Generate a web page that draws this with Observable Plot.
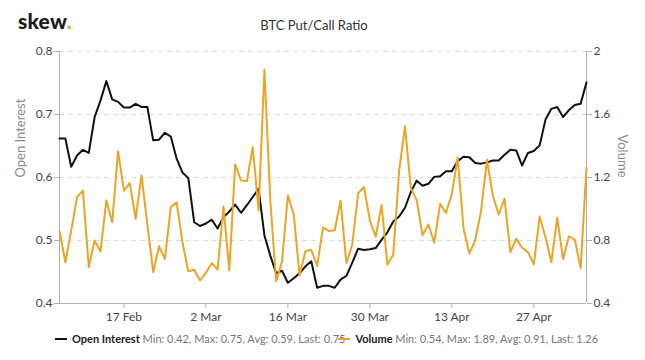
<!DOCTYPE html>
<html>
<head>
<meta charset="utf-8">
<script src="https://cdn.jsdelivr.net/npm/d3@7"></script>
<script src="https://cdn.jsdelivr.net/npm/@observablehq/plot@0.6"></script>
<style>
  body { margin: 0; background: #fff; font-family: Lato, "Noto Sans", sans-serif; }
  #wrap { position: relative; width: 645px; height: 360px; overflow: hidden; }
  #header { position: relative; height: 40px; }
  #logo { position: absolute; left: 18px; top: 8px; font-size: 21px; font-weight: 900; color: #1b1b1b; letter-spacing: 0.2px; }
  #logo span { color: #f0a21c; }
  #title { position: absolute; left: 0; width: 628px; top: 17px; text-align: center; font-size: 13px; color: #333; }
  #legend { position: relative; height: 20px; font-size: 11px; display: flex; padding-left: 55px; padding-top: 1px; white-space: nowrap; }
  .item { white-space: nowrap; }
  .item2 { margin-left: -7px; }
  .dash { display: inline-block; width: 12px; height: 2.5px; vertical-align: middle; margin-right: 5px; position: relative; top: -1px; }
  .name { color: #222; font-weight: 700; }
  .stats { color: #777; }
</style>
</head>
<body>
<div id="wrap">
  <div id="header">
    <div id="logo">skew<span>.</span></div>
    <div id="title">BTC Put/Call Ratio</div>
  </div>
  <div id="chart"></div>
  <div id="legend">
    <div class="item"><span class="dash" style="background:#111"></span><span class="name">Open Interest</span> <span class="stats">Min: 0.42, Max: 0.75, Avg: 0.59, Last: 0.75</span></div>
    <div class="item item2"><span class="dash" style="background:#eca424"></span><span class="name">Volume</span> <span class="stats">Min: 0.54, Max: 1.89, Avg: 0.91, Last: 1.26</span></div>
  </div>
</div>
<script>
// ---- data ----
const startDate = "2020-02-06"; // daily series, one value per day
const openInterest = [
  0.662,0.662,0.617,0.635,0.644,0.639,0.696,0.722,0.753,0.724,
  0.720,0.711,0.711,0.717,0.712,0.712,0.659,0.660,0.671,0.665,
  0.630,0.608,0.599,0.529,0.523,0.527,0.533,0.519,0.537,0.546,
  0.557,0.544,0.556,0.569,0.582,0.508,0.476,0.448,0.452,0.433,
  0.440,0.448,0.459,0.467,0.425,0.428,0.428,0.425,0.438,0.444,
  0.465,0.487,0.485,0.486,0.488,0.501,0.513,0.530,0.538,0.552,
  0.577,0.595,0.587,0.590,0.601,0.602,0.610,0.610,0.626,0.633,
  0.632,0.623,0.622,0.624,0.627,0.627,0.636,0.644,0.643,0.619,
  0.639,0.642,0.651,0.692,0.709,0.712,0.696,0.707,0.715,0.717,
  0.751
];
const volume = [
  0.859,0.662,0.863,1.075,1.117,0.630,0.800,0.730,1.054,0.916,
  1.367,1.117,1.164,0.938,1.213,0.906,0.599,0.764,0.683,1.011,
  1.043,0.789,0.605,0.614,0.546,0.595,0.656,0.616,1.016,0.610,
  1.283,1.181,1.177,1.392,0.990,1.884,1.054,0.542,0.665,1.086,
  0.968,0.578,0.732,0.741,0.638,0.882,0.861,0.865,1.052,0.656,
  0.774,1.100,1.140,0.927,0.825,1.025,0.647,0.710,1.240,1.525,
  1.133,1.056,0.834,0.902,0.786,1.033,0.975,1.095,1.327,0.876,
  0.718,0.802,0.990,1.312,1.086,0.965,1.065,0.726,0.811,0.754,
  0.726,0.648,0.952,0.821,0.662,0.944,0.683,0.827,0.806,0.624,
  1.262
];
const xTickDates = ["2020-02-17","2020-03-02","2020-03-16","2020-03-30","2020-04-13","2020-04-27"];
const oiTicks = [0.4, 0.5, 0.6, 0.7, 0.8];
const volTicks = [0.4, 0.8, 1.2, 1.6, 2];
const oiDomain = [0.4, 0.8];
const volDomain = [0.4, 2];

// ---- build ----
const t0 = new Date(startDate);
const rows = openInterest.map((oi, i) => ({date: d3.utcDay.offset(t0, i), oi, vol: volume[i]}));
const volToOi = v => oiDomain[0] + (v - volDomain[0]) / (volDomain[1] - volDomain[0]) * (oiDomain[1] - oiDomain[0]);
const oiToVol = y => volDomain[0] + (y - oiDomain[0]) / (oiDomain[1] - oiDomain[0]) * (volDomain[1] - volDomain[0]);
const xDomain = [rows[0].date, rows[rows.length - 1].date];
const axisColor = "#b0b0b0";

const chart = Plot.plot({
  width: 645,
  height: 291,
  marginLeft: 59,
  marginRight: 59,
  marginTop: 11,
  marginBottom: 28,
  style: {fontFamily: "Lato, 'Noto Sans', sans-serif", fontSize: "12px", color: "#444", background: "white"},
  x: {type: "utc", domain: xDomain},
  y: {domain: oiDomain},
  marks: [
    Plot.ruleY(oiTicks.slice(1), {stroke: "#dcdcdc", strokeDasharray: "5,4", strokeWidth: 1}),
    Plot.ruleX([xDomain[0], xDomain[1]], {stroke: axisColor}),
    Plot.ruleY([oiDomain[0]], {stroke: axisColor}),
    Plot.axisY(oiTicks, {anchor: "left", tickSize: 5, tickPadding: 2, stroke: axisColor, fill: "#444", tickFormat: d3.format(".1f"), label: null}),
    Plot.axisY(volTicks.map(volToOi), {anchor: "right", tickSize: 5, tickPadding: 2, stroke: axisColor, fill: "#444", tickFormat: d => String(+oiToVol(d).toFixed(1)), label: null}),
    Plot.axisX(xTickDates.map(s => new Date(s)), {tickSize: 5, tickPadding: 4, stroke: axisColor, fill: "#444", tickFormat: d3.utcFormat("%-d %b"), label: null}),
    Plot.text(["Open Interest"], {frameAnchor: "left", dx: -39, rotate: -90, fontSize: 13, fill: "#8a8a8a"}),
    Plot.text(["Volume"], {frameAnchor: "right", dx: 36, rotate: 90, fontSize: 13, fill: "#8a8a8a"}),
    Plot.line(rows, {x: "date", y: "oi", stroke: "#111", strokeWidth: 2}),
    Plot.line(rows, {x: "date", y: d => volToOi(d.vol), stroke: "#eca424", strokeWidth: 2})
  ]
});
document.getElementById("chart").appendChild(chart);
</script>
</body>
</html>
